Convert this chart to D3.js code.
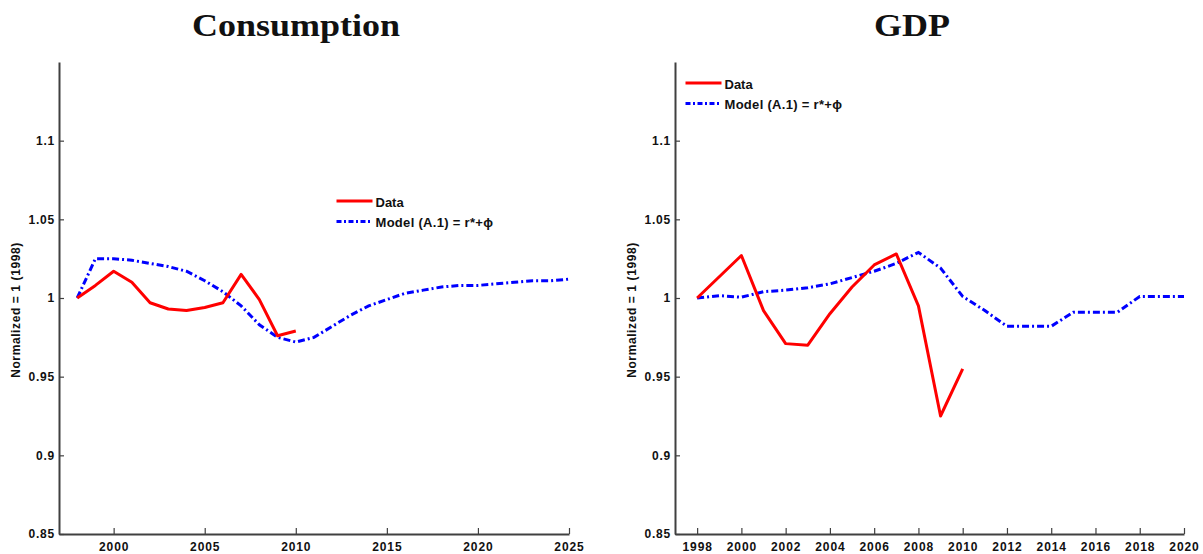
<!DOCTYPE html>
<html>
<head>
<meta charset="utf-8">
<script src="https://cdn.jsdelivr.net/npm/d3@7"></script>
<style>
    body { margin: 0; background: #fff; }
    text { font-family: "Liberation Sans", Arial, sans-serif; }
</style>
</head>
<body>
<div class="chart"></div>
<script>
// Values (normalized, 1998 = 1)
var consYearsData = [1998, 1999, 2000, 2001, 2002, 2003, 2004, 2005, 2006, 2007, 2008, 2009, 2010];
var consData = [1.000, 1.008, 1.017, 1.010, 0.997, 0.993, 0.992, 0.994, 0.997, 1.015, 0.999, 0.976, 0.979];
var consYearsModel = [1998, 1999, 2000, 2001, 2002, 2003, 2004, 2005, 2006, 2007, 2008, 2009, 2010, 2011, 2012,
    2013, 2014, 2015, 2016, 2017, 2018, 2019, 2020, 2021, 2022, 2023, 2024, 2025];
var consModel = [1.000, 1.025, 1.025, 1.024, 1.022, 1.020, 1.017, 1.011, 1.004, 0.995, 0.983, 0.975, 0.972, 0.975, 0.982,
    0.989, 0.995, 0.999, 1.003, 1.005, 1.007, 1.008, 1.008, 1.009, 1.010, 1.011, 1.011, 1.012];

var gdpYearsData = [1998, 2000, 2001, 2002, 2003, 2004, 2005, 2006, 2007, 2008, 2009, 2010];
var gdpData = [1.000, 1.027, 0.992, 0.971, 0.970, 0.990, 1.007, 1.021, 1.028, 0.995, 0.925, 0.955];
var gdpYearsModel = [1998, 1999, 2000, 2001, 2002, 2003, 2004, 2005, 2006, 2007, 2008, 2009, 2010, 2011, 2012,
    2013, 2014, 2015, 2016, 2017, 2018, 2019, 2020];
var gdpModel = [1.000, 1.0015, 1.0005, 1.004, 1.005, 1.0065, 1.009, 1.013, 1.017, 1.022, 1.029, 1.019, 1.001, 0.992, 0.982,
    0.982, 0.982, 0.991, 0.991, 0.991, 1.001, 1.001, 1.001];

var yTicks = [0.85, 0.9, 0.95, 1, 1.05, 1.1];
var yTickLabels = ["0.85", "0.9", "0.95", "1", "1.05", "1.1"];
var consXTicks = [2000, 2005, 2010, 2015, 2020, 2025];
var gdpXTicks = [1998, 2000, 2002, 2004, 2006, 2008, 2010, 2012, 2014, 2016, 2018, 2020];
var seriesNames = ["Data", "Model (A.1) = r*+ϕ"];

var width = 1203;
var height = 554;

const svg = d3.select("div.chart")
    .append("svg")
    .attr("width", width)
    .attr("height", height);

function drawPanel(p) {
    var x = d3.scaleLinear().domain(p.xDomain).range(p.xRange);
    var y = d3.scaleLinear().domain([0.85, 1.15]).range([534, 62]);

    var g = svg.append("g");

    // Title
    g.append("text")
        .attr("x", p.titleX)
        .attr("y", 36)
        .attr("text-anchor", "middle")
        .attr("textLength", p.titleLen)
        .attr("lengthAdjust", "spacingAndGlyphs")
        .style("font-family", "'Liberation Serif', 'Times New Roman', serif")
        .style("font-weight", "bold")
        .style("font-size", "32px")
        .style("fill", "#111")
        .text(p.title);

    // Y axis, ticks pointing inside
    g.append("g")
        .attr("transform", `translate(${p.xRange[0]},0)`)
        .call(d3.axisLeft(y).tickValues(yTicks).tickFormat((d, i) => yTickLabels[i])
            .tickSizeInner(-5).tickSizeOuter(0).tickPadding(4))
        .call(a => a.select(".domain").attr("stroke", "#404040").attr("stroke-width", 2))
        .call(a => a.selectAll(".tick line").attr("stroke", "#404040").attr("stroke-width", 1.2))
        .call(a => a.selectAll(".tick text")
            .style("font-size", "12px").style("font-weight", "bold").style("letter-spacing", "0.8px")
            .style("fill", "#111"));

    // X axis
    g.append("g")
        .attr("transform", `translate(0,${y(0.85)})`)
        .call(d3.axisBottom(x).tickValues(p.xTicks).tickFormat(d3.format("d"))
            .tickSizeInner(-6).tickSizeOuter(0).tickPadding(8))
        .call(a => a.select(".domain").attr("stroke", "#404040").attr("stroke-width", 2))
        .call(a => a.selectAll(".tick line").attr("stroke", "#404040").attr("stroke-width", 1.2))
        .call(a => a.selectAll(".tick text")
            .style("font-size", "12px").style("font-weight", "bold").style("letter-spacing", "0.9px")
            .style("fill", "#111"));

    // Y label
    g.append("text")
        .attr("transform", `translate(${p.xRange[0] - 43},310) rotate(-90)`)
        .attr("text-anchor", "middle")
        .attr("dy", "0.35em")
        .style("font-size", "12px")
        .style("font-weight", "bold")
        .style("letter-spacing", "0.6px")
        .style("fill", "#111")
        .text("Normalized = 1 (1998)");

    var line = d3.line()
        .x(d => x(d[0]))
        .y(d => y(d[1]));

    g.append("path")
        .datum(d3.zip(p.modelYears, p.model))
        .attr("fill", "none")
        .attr("stroke", "#0000ff")
        .attr("stroke-width", 3)
        .attr("stroke-dasharray", "7,3,2,3")
        .attr("d", line);

    g.append("path")
        .datum(d3.zip(p.dataYears, p.data))
        .attr("fill", "none")
        .attr("stroke", "#ff0000")
        .attr("stroke-width", 3)
        .attr("stroke-linejoin", "round")
        .attr("d", line);

    // Legend
    var lg = g.append("g").attr("transform", `translate(${p.legend[0]},${p.legend[1]})`);
    lg.append("line").attr("x1", 0).attr("x2", 36).attr("y1", 0).attr("y2", 0)
        .attr("stroke", "#ff0000").attr("stroke-width", 3);
    lg.append("line").attr("x1", 0).attr("x2", 36).attr("y1", 20.5).attr("y2", 20.5)
        .attr("stroke", "#0000ff").attr("stroke-width", 3).attr("stroke-dasharray", "5,2.5,2,2.5");
    lg.append("text").attr("x", 39).attr("y", 5.5)
        .style("font-size", "13px").style("font-weight", "bold").style("fill", "#111")
        .text(seriesNames[0]);
    lg.append("text").attr("x", 39).attr("y", 26)
        .style("font-size", "13px").style("font-weight", "bold").style("letter-spacing", "0.3px")
        .style("fill", "#111")
        .text(seriesNames[1]);
}

drawPanel({
    title: "Consumption", titleX: 296, titleLen: 208,
    xDomain: [1997, 2025], xRange: [59, 569], xTicks: consXTicks,
    dataYears: consYearsData, data: consData,
    modelYears: consYearsModel, model: consModel,
    legend: [336.5, 201]
});

drawPanel({
    title: "GDP", titleX: 912, titleLen: 76,
    xDomain: [1997, 2020], xRange: [675, 1184], xTicks: gdpXTicks,
    dataYears: gdpYearsData, data: gdpData,
    modelYears: gdpYearsModel, model: gdpModel,
    legend: [685.5, 83]
});
</script>
</body>
</html>
